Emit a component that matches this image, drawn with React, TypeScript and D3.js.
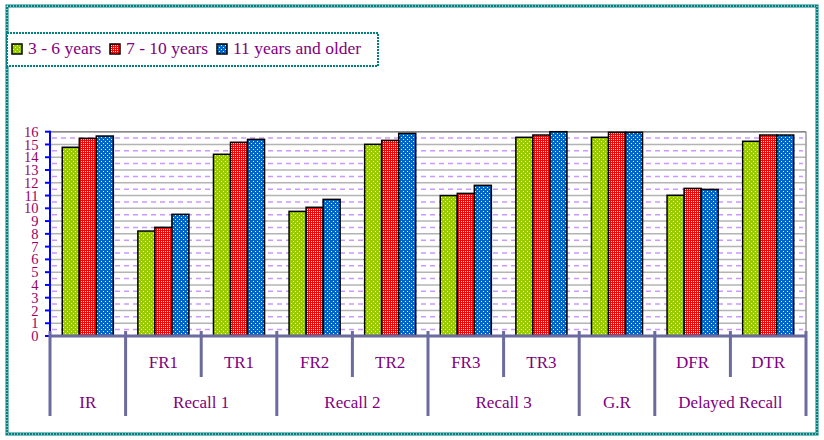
import React from "react";
import * as d3 from "d3";

const categories = ["IR", "FR1", "TR1", "FR2", "TR2", "FR3", "TR3", "G.R", "DFR", "DTR"];
const subLabels = ["", "FR1", "TR1", "FR2", "TR2", "FR3", "TR3", "", "DFR", "DTR"];
const groupLabels = ["IR", "Recall 1", "Recall 2", "Recall 3", "G.R", "Delayed Recall"];
const groupSpans = [1, 2, 2, 2, 1, 2];
const seriesNames = ["3 - 6 years", "7 - 10 years", "11 years and older"];
const age3to6 = [14.78, 8.22, 14.23, 9.76, 15.01, 11.0, 15.56, 15.56, 11.02, 15.25];
const age7to10 = [15.48, 8.51, 15.17, 10.08, 15.32, 11.17, 15.74, 15.95, 11.56, 15.74];
const age11plus = [15.66, 9.53, 15.4, 10.7, 15.87, 11.8, 16.0, 15.95, 11.48, 15.74];
const yTicks = d3.range(0, 17);

const seriesValues = [age3to6, age7to10, age11plus];
const patternIds = ["patGreen", "patRed", "patBlue"];

const FONT = "'Liberation Serif', 'DejaVu Serif', serif";

export default function App() {
  const left = 50, right = 806, top = 131.7, bottom = 336;
  const y = d3.scaleLinear().domain([0, 16]).range([bottom, top]);
  const x = d3.scaleBand<string>().domain(categories).range([left, right]).padding(0);
  const xs = d3.scaleBand<string>().domain(seriesNames).range([0, x.bandwidth()]).paddingInner(0).paddingOuter(0.72);
  const step = x.step();

  const halfTicks = d3.range(0.5, 16, 1);

  const groupBounds: number[] = [0];
  groupSpans.reduce((acc, s) => { groupBounds.push(acc + s); return acc + s; }, 0);
  const boundaries = d3.range(0, categories.length + 1);

  return (
    <svg width={824} height={440} style={{ position: "absolute", left: 0, top: 0, background: "#fff", fontFamily: FONT }}>
      <defs>
        <pattern id="patGreen" width={4} height={4} patternUnits="userSpaceOnUse">
          <rect width={4} height={4} fill="#99CC00" />
          <rect x={1} y={1} width={1} height={1} fill="#fff" />
          <rect x={3} y={3} width={1} height={1} fill="#fff" />
        </pattern>
        <pattern id="patRed" width={2} height={2} patternUnits="userSpaceOnUse">
          <rect width={2} height={2} fill="#FF0000" />
          <rect x={1} y={1} width={1} height={1} fill="#fff" />
        </pattern>
        <pattern id="patBlue" width={4} height={4} patternUnits="userSpaceOnUse">
          <rect width={4} height={4} fill="#0066CC" />
          <rect x={1} y={1} width={1} height={1} fill="#fff" />
          <rect x={3} y={3} width={1} height={1} fill="#fff" />
        </pattern>
      </defs>

      {/* outer frame */}
      <rect x={7} y={6} width={810} height={428} fill="none" stroke="#008080" strokeWidth={3} />
      <rect x={7} y={6} width={810} height={428} fill="none" stroke="#fff" strokeWidth={1} strokeDasharray="1 2" />

      {/* legend */}
      <rect x={7} y={33} width={371} height={33} fill="#fff" stroke="#008080" strokeWidth={2} strokeDasharray="2 1" />
      {seriesNames.map((name, i) => {
        const sx = [12, 110, 217][i];
        return (
          <g key={name}>
            <rect x={sx} y={44} width={10} height={10} fill={`url(#${patternIds[i]})`} stroke="#000" strokeWidth={1.5} />
            <text x={sx + 16} y={54} style={{ fontFamily: FONT }} fontSize={17.5} fill="#800080">{name}</text>
          </g>
        );
      })}

      {/* gridlines */}
      {yTicks.map((t) => (
        <line key={"g" + t} x1={left} x2={right} y1={y(t)} y2={y(t)} stroke="#B4B4B4" strokeWidth={1.5} />
      ))}
      {halfTicks.map((t) => (
        <line key={"h" + t} x1={left + 2} x2={right - 3} y1={y(t)} y2={y(t)} stroke="#CC99FF" strokeWidth={1.5} strokeDasharray="5 4" />
      ))}
      <line x1={right} x2={right} y1={top} y2={bottom} stroke="#999" strokeWidth={1.5} />
      <line x1={left} x2={right} y1={top} y2={top} stroke="#888" strokeWidth={1.5} />

      {/* bars */}
      {categories.map((c, ci) => (
        <g key={c + ci}>
          {seriesNames.map((s, si) => {
            const v = seriesValues[si][ci];
            const bx = (x(c) as number) + (xs(s) as number);
            return (
              <rect key={s} x={bx} y={y(v)} width={xs.bandwidth()} height={bottom - y(v)}
                fill={`url(#${patternIds[si]})`} stroke="#000" strokeWidth={1.5} />
            );
          })}
        </g>
      ))}

      {/* y axis */}
      <line x1={left} x2={left} y1={top - 1} y2={bottom} stroke="#0000FF" strokeWidth={2} />
      {yTicks.map((t) => (
        <g key={"yt" + t}>
          <line x1={left - 5} x2={left} y1={y(t)} y2={y(t)} stroke="#0000FF" strokeWidth={2} />
          <text x={38.5} y={y(t)} dy="0.35em" textAnchor="end" style={{ fontFamily: FONT }} fontSize={14.5} fill="#990066">{t}</text>
        </g>
      ))}

      {/* x axis */}
      <line x1={left} x2={right} y1={bottom} y2={bottom} stroke="#6B6B9F" strokeWidth={3} />
      {boundaries.map((b) => {
        const isGroup = groupBounds.includes(b);
        const bx = left + b * step;
        return (
          <line key={"b" + b} x1={bx} x2={bx} y1={331} y2={isGroup ? 416 : 377} stroke="#6B6B9F" strokeWidth={3} />
        );
      })}
      {categories.map((c, ci) => (
        <text key={"sl" + ci} x={(x(c) as number) + step / 2} y={368} textAnchor="middle" style={{ fontFamily: FONT }} fontSize={17} fill="#800080">
          {subLabels[ci]}
        </text>
      ))}
      {groupLabels.map((g, gi) => {
        const cx = left + ((groupBounds[gi] + groupBounds[gi + 1]) / 2) * step;
        return (
          <text key={"gl" + gi} x={cx} y={408} textAnchor="middle" style={{ fontFamily: FONT }} fontSize={17} fill="#800080">{g}</text>
        );
      })}
    </svg>
  );
}
